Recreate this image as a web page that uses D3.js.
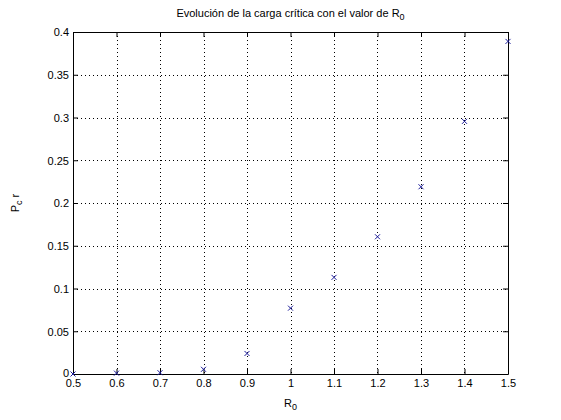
<!DOCTYPE html>
<html><head><meta charset="utf-8">
<script src="https://cdn.jsdelivr.net/npm/d3@7"></script>
<style>
body{margin:0;background:#fff;}
svg{display:block;font-family:"Liberation Sans",Arial,sans-serif;}
</style></head>
<body>
<script>
const r0Values = [0.5,0.6,0.7,0.8,0.9,1.0,1.1,1.2,1.3,1.4,1.5];
const pcrValues = [0.0,0.001,0.0015,0.0055,0.024,0.077,0.113,0.1605,0.219,0.2955,0.389];
const xTicks = [0.5,0.6,0.7,0.8,0.9,1,1.1,1.2,1.3,1.4,1.5];
const yTicks = [0,0.05,0.1,0.15,0.2,0.25,0.3,0.35,0.4];

const W=561,H=420;
const m={left:73,right:53,top:32,bottom:46};
const svg=d3.select("body").append("svg").attr("width",W).attr("height",H);
const x=d3.scaleLinear().domain([0.5,1.5]).range([m.left,W-m.right]);
const y=d3.scaleLinear().domain([0,0.4]).range([H-m.bottom,m.top]);
const fmt=d=>String(+d.toFixed(2));

// grid
const g=svg.append("g");
g.selectAll(".vg").data(xTicks.slice(1,-1)).enter().append("line")
 .attr("x1",d=>Math.round(x(d))+0.5).attr("x2",d=>Math.round(x(d))+0.5)
 .attr("y1",y(0.4)).attr("y2",y(0))
 .attr("stroke","#000").attr("stroke-width",1).attr("stroke-dasharray","1,3");
g.selectAll(".hg").data(yTicks.slice(1,-1)).enter().append("line")
 .attr("y1",d=>Math.round(y(d))+0.5).attr("y2",d=>Math.round(y(d))+0.5)
 .attr("x1",x(0.5)).attr("x2",x(1.5))
 .attr("stroke","#000").attr("stroke-width",1).attr("stroke-dasharray","1,3");

// axes
const xb=svg.append("g").attr("transform",`translate(0,${y(0)})`)
 .call(d3.axisBottom(x).tickValues(xTicks).tickFormat(fmt).tickSizeInner(-5).tickSizeOuter(0).tickPadding(5));
const xt=svg.append("g").attr("transform",`translate(0,${y(0.4)})`)
 .call(d3.axisTop(x).tickValues(xTicks).tickFormat("").tickSizeInner(-5).tickSizeOuter(0));
const yl=svg.append("g").attr("transform",`translate(${x(0.5)},0)`)
 .call(d3.axisLeft(y).tickValues(yTicks).tickFormat(fmt).tickSizeInner(-5).tickSizeOuter(0).tickPadding(4));
const yr=svg.append("g").attr("transform",`translate(${x(1.5)},0)`)
 .call(d3.axisRight(y).tickValues(yTicks).tickFormat("").tickSizeInner(-5).tickSizeOuter(0));
[xb,xt,yl,yr].forEach(a=>{
 a.selectAll("path").attr("stroke","#000").attr("stroke-width",1);
 a.selectAll("line").attr("stroke","#000");
 a.selectAll("text").attr("font-family","Liberation Sans, Arial, sans-serif").attr("font-size","11px").attr("fill","#000");
});
xb.selectAll("text").attr("dy","0.71em");
yl.selectAll("text").attr("dy","0.36em");
yl.selectAll(".tick").filter(d=>d===0).select("text").attr("dy","0.2em");

// markers
const s=2.5;
const pts=svg.append("g");
r0Values.forEach((r,i)=>{
 const cx=x(r), cy=y(pcrValues[i]);
 pts.append("path")
  .attr("d",`M${cx-s},${cy-s}L${cx+s},${cy+s}M${cx-s},${cy+s}L${cx+s},${cy-s}`)
  .attr("stroke","#1c1c9a").attr("stroke-width",1).attr("fill","none");
});

// title
const t=svg.append("text").attr("x",(x(0.5)+x(1.5))/2).attr("y",17)
 .attr("text-anchor","middle").attr("font-size","11px").attr("fill","#000");
t.append("tspan").text("Evolución de la carga crítica con el valor de R");
t.append("tspan").attr("dy",3).attr("font-size","9px").text("0");

// x label
const xl=svg.append("text").attr("x",(x(0.5)+x(1.5))/2).attr("y",407)
 .attr("text-anchor","middle").attr("font-size","11px").attr("fill","#000");
xl.append("tspan").text("R");
xl.append("tspan").attr("dy",3).attr("font-size","9px").text("0");

// y label
const ylab=svg.append("text").attr("transform",`translate(19,${(y(0)+y(0.4))/2}) rotate(-90)`)
 .attr("text-anchor","middle").attr("font-size","11px").attr("fill","#000");
ylab.append("tspan").text("P");
ylab.append("tspan").attr("dy",3).attr("font-size","9px").text("c");
ylab.append("tspan").attr("dy",-3).text(" r");
</script>
</body></html>
